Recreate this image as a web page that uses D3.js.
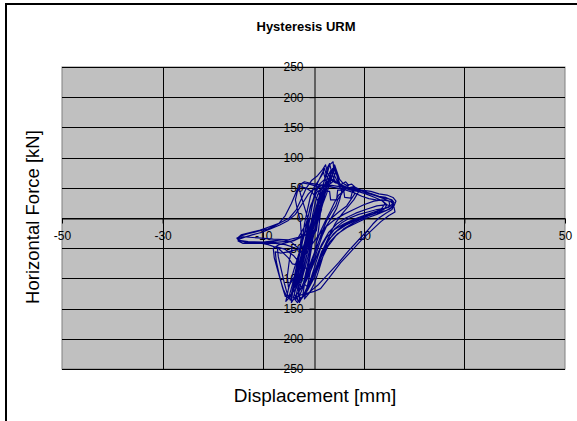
<!DOCTYPE html>
<html><head><meta charset="utf-8">
<script src="https://cdn.jsdelivr.net/npm/d3@7"></script>
<style>body{margin:0;background:#fff}svg{display:block}</style>
</head><body>
<svg id="c" width="577" height="421"></svg>
<script>
const title = "Hysteresis URM";
const xTitle = "Displacement [mm]";
const yTitle = "Horizontal Force [kN]";
const xTicks = [-50, -30, -10, 10, 30, 50];
const yTicks = [-250, -200, -150, -100, -50, 0, 50, 100, 150, 200, 250];

const displacement = [
0,0.6,1.2,1.5,1.1,0.3,-0.5,-1.2,-1.7,-1.2,-0.4,
0.4,1.4,2.2,2.7,2.2,1.2,0.2,-1.0,-2.0,-2.7,-2.2,-1.2,-0.2,
0.9,2.0,3.0,3.5,3.0,2.0,0.8,-0.4,-1.8,-3.0,-3.7,-3.1,-2.1,-1.0,0.1,
1.0,2.0,2.8,3.2,3.9,4.0,3.5,2.6,1.5,0.4,-1.0,-2.4,-3.6,-4.6,-5.5,-5.0,-3.9,-2.8,-1.8,-1.0,
-1.8,-2.6,-2.9,-2.2,-0.8,0.8,2.4,3.8,4.4,4.8,5.4,6.5,8.0,9.6,11.0,12.4,13.6,14.2,13.6,12.0,10.0,8.0,6.0,4.4,2.8,1.4,0.2,-1.2,-2.4,-3.0,-2.4,-1.6,-0.8,0,0.8,1.6,
1.4,1.0,0,-1.0,-2.2,-3.6,-5.0,-6.8,-8.6,-10.4,-12.2,-13.8,-14.8,-15.0,-14.0,-12.0,-10.0,-8.0,-6.0,-4.4,-3.0,-2.0,-1.2,-0.4,0.4,1.2,2.0,2.8,3.6,4.2,4.6,5.0,6.0,7.0,8.0,9.0,10.5,12.0,13.6,14.8,15.6,16.0,15.6,14.4,12.6,10.6,8.6,6.6,4.8,3.2,1.8,0.4,-0.8,-2.0,-3.2,-4.0,-3.4,-2.6,
-3.0,-2.8,-1.0,1.0,3.0,5.0,7.0,9.0,10.6,11.8,13.0,14.4,15.6,16.0,15.2,13.6,12.0,10.0,8.0,6.0,4.0,2.0,0.0,-1.6,-3.0,-4.2,
-5.0,-7.0,-9.0,-11.0,-13.0,-14.6,-15.2,-14.4,-12.6,-10.6,-8.6,-6.6,-4.8,-3.4,-2.4,-1.4,-0.4,0.8,1.8,2.4,2.8,3.4,4.2,5.4,7.0,8.6,10.0,11.6,13.0,14.4,15.4,15.8,15.0,13.6,12.0,10.0,8.0,6.0,4.0,2.6,1.4,0.4,-0.6,-1.8,-2.8,-3.4,
-2.0,0,1.4,3.4,5.4,7.6,9.7,11.6,13.4,15.0,16.2,16.0,14.6,12.6,10.4,8.4,6.4,4.6,3.0,1.6,0.6,-0.6,
-2.4,-4.0,-5.6,-7.2,-7.0,-6.4,-5.8,-5.2,-4.6,-4.0,-3.2,-2.4,-1.6,-1.0,-0.4,0.2,0.8,1.6,2.2,2.6,3.0,3.6,4.2,4.6,5.0,5.8,7.4,8.8,10.4,12.2,13.8,14.6,14.0,12.4,10.4,8.4,6.4,4.6,3.0,1.6,0.6,-0.4,-1.4,-2.2,-1.8,-1.0,-0.4,0,
-2.0,-4.0,-7.0,-10.0,-13.0,-14.8,-15.2,-14.0,-11.0,-8.0,-5.0,-3.0,-1.5,-0.5,0.5,1.5,3.0,4.5,6.0,5.6,4.8,4.4,3.6,2.6,1.6,0.6,-0.6,-1.6,-2.6,-3.6,-3.2,-2.2,-1.4,-0.6,0.2,
1.0,1.2,2.2,3.2,3.4,4.6,4.8,6.0,6.2,7.4,7.8,8.2,6.6,5.0,3.6,2.0,0.8,-0.4,-1.4,-2.4,-3.6,-4.4,-4.0,-3.4,-2.8,-2.2,-1.8,-1.2,-0.6,0.2,1.0,1.6,2.0,2.4,3.0,3.4,3.8,4.2,5.0,6.4,8.0,9.6,11.4,13.0,14.6,15.8,16.4,16.0,15.0,13.4,11.4,9.4,7.4,5.6,4.0,2.8,1.8,0.8,-0.2,-1.2,-2.0,-1.4,-0.8,-0.2,0.4,1.0,
0.6,-0.4,-1.6,-3.2,-5.0,-6.6,-7.6,-7.4,-6.8,-6.2,-5.6,-4.8,-4.0,-3.4,-2.8,-2.4,-2.6,-3.2,-3.6,-3.2,-2.6,-1.8,-0.8,0.4,1.6,2.8,3.6,4.2,4.6,5.2,5.8,6.6,7.6,8.4,9.8,11.2,12.6,14.0,15.0,15.2,14.2,12.6,10.8,9.0,7.2,5.6,4.2,3.0,2.0,1.0,0,-1.0,-2.0,-3.0,-3.8,-3.0,-2.2,-1.6,-1.0,-0.4,0.2,
0.8,1.6,2.4,2.0,1.4,0.6,-0.2,-1.0,-1.8,-2.6,-3.4,-4.2,-3.6,-2.8,-2.0,-1.4,-0.8,-0.2,0.4,1.2,2.2,2.8,3.2,3.6,4.2,5.0,5.6,5.2,4.6,3.8,2.8,1.8,0.8,-0.2,-1.2,-2.2,-3.0,-2.4,-1.6,-0.8,0,
-1.2,-3.0,-5.0,-6.8,-8.0,-7.8,-7.2,-6.6,-6.0,-5.2,-4.4,-3.8,-3.0,-2.2,-1.4,-0.6,0.6,2.0,3.6,5.2,6.8,8.2,9.0,8.0,6.8,5.6,4.4,3.4,2.6,1.8,1.0,0.2,-0.8,-1.8,-1.2,-0.4,0.4,1.0,1.4,
0.8,-0.4,-1.6,-2.8,-3.4,-4.4,-5.6,-7.0,-9.0,-11.0,-13.0,-14.6,-15.0,-13.6,-11.6,-9.6,-7.6,-5.6,-4.2,-4.8,-5.2,-5.0,-4.0,-3.0,-2.2,-1.2,-0.2,0.8,1.8,2.6,3.0,3.6,4.4,5.6,6.4,7.0,6.0,5.0,4.2,3.4,2.4,1.4,0.6
];
const force = [
0,18,34,40,24,4,-18,-38,-52,-32,-10,
10,34,52,60,40,14,-8,-38,-66,-84,-58,-28,-2,
24,50,72,80,58,32,6,-20,-56,-92,-108,-82,-50,-20,6,
32,58,76,88,93,82,64,40,16,-6,-42,-84,-112,-130,-138,-118,-86,-56,-28,-4,
18,40,54,58,56,52,50,60,76,68,52,46,42,36,32,30,29,24,16,8,0,-8,-18,-30,-48,-72,-98,-120,-134,-128,-104,-80,-54,-30,-8,14,
30,44,48,40,24,6,-4,-12,-18,-24,-28,-32,-35,-38,-42,-42,-40,-38,-36,-40,-50,-60,-48,-28,-6,18,40,56,70,80,72,58,52,50,52,48,42,38,34,32,30,26,18,12,6,0,-8,-16,-26,-40,-60,-84,-108,-128,-140,-132,-112,-90,
-120,-134,-124,-110,-92,-74,-54,-36,-22,-10,0,8,14,22,28,30,28,22,14,6,-4,-18,-40,-60,-78,-76,
-66,-50,-44,-41,-40,-38,-34,-28,-24,-20,-14,-8,0,14,32,50,62,70,80,88,74,66,60,54,48,46,44,40,36,34,30,24,18,14,10,4,-2,-10,-20,-32,-50,-76,-102,-124,-140,-130,
-126,-122,-117,-96,-74,-54,-35,-20,-6,4,10,18,22,20,14,8,0,-10,-24,-44,-64,-88,
-78,-62,-52,-48,-64,-86,-108,-126,-136,-120,-96,-70,-42,-14,14,40,58,72,82,70,62,68,84,74,60,50,46,44,40,34,28,22,14,8,2,-4,-12,-22,-36,-56,-80,-104,-122,-132,-110,-80,-50,-20,
-30,-38,-40,-40,-39,-37,-33,-31,-33,-35,-36,-32,-10,20,45,55,52,50,48,40,30,20,10,-5,-25,-50,-80,-105,-125,-135,-118,-92,-64,-36,-8,
20,40,45,44,30,30,46,47,34,33,46,40,20,10,0,-20,-44,-70,-94,-116,-130,-140,-112,-84,-58,-34,-10,14,36,52,62,70,76,62,58,72,82,70,56,52,48,46,44,40,38,34,28,20,14,10,6,0,-6,-14,-26,-40,-58,-80,-100,-114,-108,-86,-62,-38,-14,8,
-20,-34,-46,-52,-56,-58,-56,-72,-94,-114,-130,-128,-104,-80,-56,-30,-6,14,30,44,56,60,58,56,54,56,66,88,78,64,58,54,56,50,44,40,36,32,28,20,16,14,10,6,0,-8,-18,-32,-50,-72,-96,-116,-130,-138,-126,-100,-76,-52,-28,-4,20,
38,50,46,28,10,-10,-30,-52,-74,-96,-116,-124,-100,-76,-50,-26,-2,22,44,56,64,84,90,76,62,56,44,30,16,4,-10,-28,-52,-78,-100,-116,-108,-84,-58,-32,-6,
-20,-34,-40,-44,-50,-66,-84,-102,-118,-132,-126,-104,-70,-40,-10,20,42,52,54,52,50,50,44,30,18,6,-8,-24,-44,-66,-88,-108,-124,-134,-112,-80,-50,-20,10,
30,44,50,52,44,24,4,-10,-18,-22,-26,-30,-36,-40,-42,-42,-42,-44,-48,-70,-96,-114,-100,-82,-60,-36,-10,16,38,54,66,62,58,56,60,54,44,38,26,12,-4,-22,-40
];

const svg = d3.select("#c");

// outer chart frame
svg.append("rect").attr("x", 6).attr("y", 4).attr("width", 700).attr("height", 600)
  .attr("fill", "#fff").attr("stroke", "#000").attr("stroke-width", 2);

const x = d3.scaleLinear().domain([-50, 50]).range([62, 565]);
const y = d3.scaleLinear().domain([-250, 250]).range([369, 67]);

// plot area
svg.append("rect").attr("x", x(-50)).attr("y", y(250))
  .attr("width", x(50) - x(-50)).attr("height", y(-250) - y(250))
  .attr("fill", "#c0c0c0").attr("stroke", "#808080").attr("stroke-width", 1);

// gridlines
svg.append("g").selectAll("line").data(yTicks).join("line")
  .attr("x1", x(-50)).attr("x2", x(50))
  .attr("y1", d => Math.round(y(d)) + 0.5).attr("y2", d => Math.round(y(d)) + 0.5)
  .attr("stroke", "#000").attr("stroke-width", 1);
svg.append("g").selectAll("line").data(xTicks.filter(d => Math.abs(d) < 50)).join("line")
  .attr("x1", d => Math.round(x(d)) + 0.5).attr("x2", d => Math.round(x(d)) + 0.5)
  .attr("y1", y(250)).attr("y2", y(-250))
  .attr("stroke", "#000").attr("stroke-width", 1);

const font = "Arial, 'Liberation Sans', sans-serif";

// x axis at y=0
const gx = svg.append("g").attr("transform", `translate(0,${Math.round(y(0)) + 0.5})`)
  .call(d3.axisBottom(x).tickValues(xTicks).tickFormat(d => String(d)).tickSize(5).tickPadding(8).tickSizeOuter(0));
gx.select(".domain").attr("stroke", "#000");
gx.selectAll("line").attr("stroke", "#000");
gx.selectAll("text").attr("font-family", font).attr("font-size", 12).attr("fill", "#000");

// y axis at x=0
const gy = svg.append("g").attr("transform", `translate(${Math.round(x(0)) + 0.5},0)`)
  .call(d3.axisLeft(y).tickValues(yTicks).tickFormat(d => String(d)).tickSize(5).tickPadding(6).tickSizeOuter(0));
gy.select(".domain").attr("stroke", "#000");
gy.selectAll("line").attr("stroke", "#000");
gy.selectAll("text").attr("font-family", font).attr("font-size", 12).attr("fill", "#000");

// hysteresis curve
const pts = displacement.map((d, i) => [d, force[i]]);
svg.append("path").datum(pts)
  .attr("d", d3.line().x(d => x(d[0])).y(d => y(d[1])))
  .attr("fill", "none").attr("stroke", "#000080").attr("stroke-width", 1.2)
  .attr("stroke-linejoin", "round");

// titles
svg.append("text").attr("x", 306).attr("y", 31).attr("text-anchor", "middle")
  .attr("font-family", font).attr("font-weight", "bold").attr("font-size", 13).text(title);
svg.append("text").attr("x", 315).attr("y", 402).attr("text-anchor", "middle")
  .attr("font-family", font).attr("font-size", 19).text(xTitle);
svg.append("text").attr("transform", "translate(39,217) rotate(-90)").attr("text-anchor", "middle")
  .attr("font-family", font).attr("font-size", 18.5).text(yTitle);
</script>
</body></html>
